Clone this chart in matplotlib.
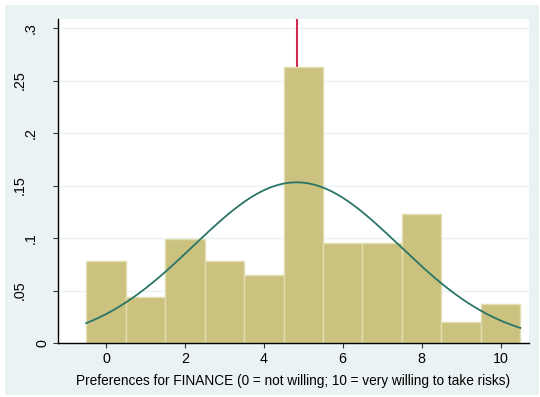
import numpy as np
import matplotlib
matplotlib.use("Agg")
import matplotlib.pyplot as plt
from matplotlib.patches import Rectangle

plt.rcParams['font.family'] = ['Liberation Sans', 'DejaVu Sans']

# Histogram of risk preferences (fraction of respondents per score)
scores = [0, 1, 2, 3, 4, 5, 6, 7, 8, 9, 10]
fractions = [0.0784, 0.0441, 0.0987, 0.0784, 0.0648, 0.2630,
             0.0955, 0.0955, 0.1226, 0.0203, 0.0374]
mean_score = 4.83
sd_score = 2.607

yticks = [0, 0.05, 0.10, 0.15, 0.20, 0.25, 0.30]
ytick_labels = ['0', '.05', '.1', '.15', '.2', '.25', '.3']
xticks = [0, 2, 4, 6, 8, 10]
xlabel = 'Preferences for FINANCE (0 = not willing; 10 = very willing to take risks)'

W, H = 540, 397
fig = plt.figure(figsize=(W / 100, H / 100), dpi=100)
fig.patch.set_facecolor('white')
fig.patches.append(Rectangle((5 / W, 2 / H), 534 / W, 390 / H,
                             transform=fig.transFigure, facecolor='#EAF2F3',
                             edgecolor='none', zorder=-10))

ax = fig.add_axes([58 / W, 1 - 343 / H, (529 - 58) / W, (343 - 19) / H])
ax.set_facecolor('white')

# mean line sits behind the bars
ax.axvline(mean_score, color='#D12A50', lw=1.5, zorder=1)

ax.bar(scores, fractions, width=1.0, color='#CAC27E', edgecolor='#E3DDB0',
       linewidth=1.0, zorder=2)

xs = np.linspace(scores[0] - 0.5, scores[-1] + 0.5, 300)
pdf = np.exp(-0.5 * ((xs - mean_score) / sd_score) ** 2) / (sd_score * np.sqrt(2 * np.pi))
ax.plot(xs, pdf, color='#2A7568', lw=1.3, zorder=3)

ax.set_xlim(-1.216, 10.72)
ax.set_ylim(0, 0.3086)

for y in yticks[1:]:
    ax.axhline(y, color='#EAF2F3', lw=1.0, zorder=0)

for s in ['top', 'right']:
    ax.spines[s].set_visible(False)
for s in ['left', 'bottom']:
    ax.spines[s].set_color('black')
    ax.spines[s].set_linewidth(1.0)

ax.set_xticks(xticks)
ax.set_xticklabels([str(v) for v in xticks], fontsize=10.3)
ax.set_yticks(yticks)
ax.set_yticklabels(ytick_labels, fontsize=10.3, rotation=90, ha='center', va='center')
ax.tick_params(axis='both', length=3.6, width=0.8, color='#333333')
ax.tick_params(axis='x', pad=3)

# vertical y labels are offset by label length
for tick, lab in zip(ax.yaxis.get_major_ticks(), ytick_labels):
    centre_px = 54 - 11.5 * len(lab)
    tick.set_pad((53 - centre_px) * 72 / 100)

ax.set_xlabel(xlabel, fontsize=9.8, labelpad=6)

fig.savefig('out.png', dpi=100, facecolor=fig.get_facecolor())
